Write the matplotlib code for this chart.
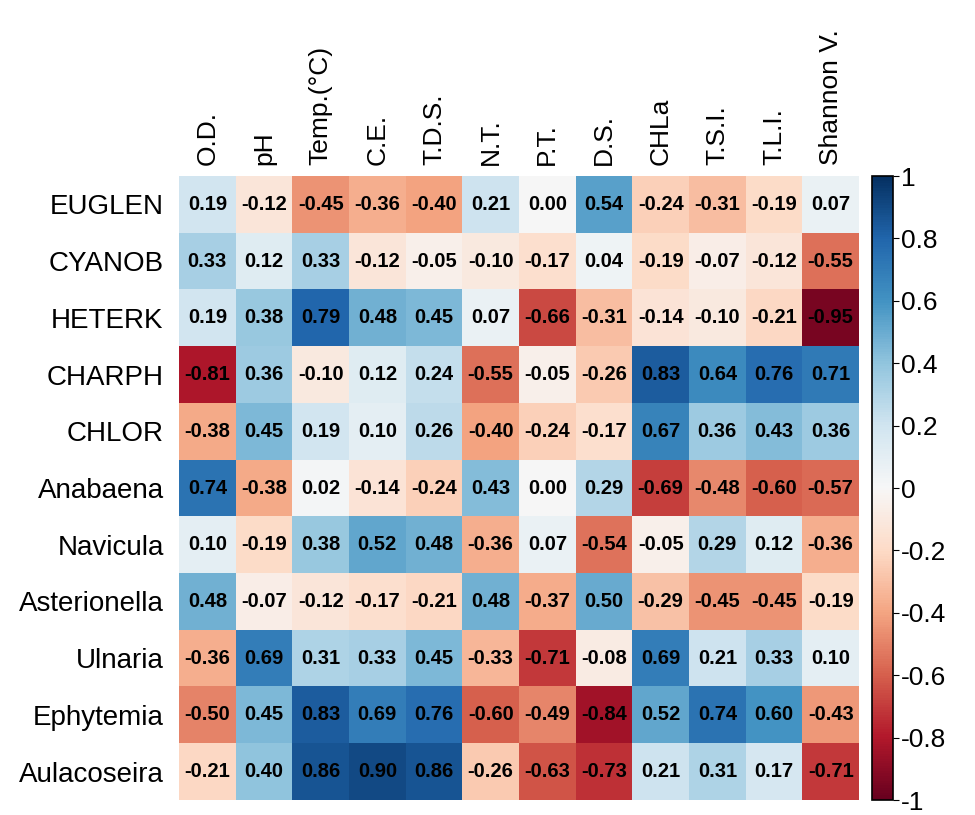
import numpy as np
import matplotlib
matplotlib.use("Agg")
import matplotlib.pyplot as plt

plt.rcParams['font.family'] = ['Liberation Sans', 'DejaVu Sans']

cols = ['O.D.', 'pH', 'Temp.(°C)', 'C.E.', 'T.D.S.', 'N.T.', 'P.T.', 'D.S.',
        'CHLa', 'T.S.I.', 'T.L.I.', 'Shannon V.']
rows = ['EUGLEN', 'CYANOB', 'HETERK', 'CHARPH', 'CHLOR', 'Anabaena', 'Navicula',
        'Asterionella', 'Ulnaria', 'Ephytemia', 'Aulacoseira']

euglen = [0.19, -0.12, -0.45, -0.36, -0.40, 0.21, 0.00, 0.54, -0.24, -0.31, -0.19, 0.07]
cyanob = [0.33, 0.12, 0.33, -0.12, -0.05, -0.10, -0.17, 0.04, -0.19, -0.07, -0.12, -0.55]
heterk = [0.19, 0.38, 0.79, 0.48, 0.45, 0.07, -0.66, -0.31, -0.14, -0.10, -0.21, -0.95]
charph = [-0.81, 0.36, -0.10, 0.12, 0.24, -0.55, -0.05, -0.26, 0.83, 0.64, 0.76, 0.71]
chlor = [-0.38, 0.45, 0.19, 0.10, 0.26, -0.40, -0.24, -0.17, 0.67, 0.36, 0.43, 0.36]
anabaena = [0.74, -0.38, 0.02, -0.14, -0.24, 0.43, 0.00, 0.29, -0.69, -0.48, -0.60, -0.57]
navicula = [0.10, -0.19, 0.38, 0.52, 0.48, -0.36, 0.07, -0.54, -0.05, 0.29, 0.12, -0.36]
asterionella = [0.48, -0.07, -0.12, -0.17, -0.21, 0.48, -0.37, 0.50, -0.29, -0.45, -0.45, -0.19]
ulnaria = [-0.36, 0.69, 0.31, 0.33, 0.45, -0.33, -0.71, -0.08, 0.69, 0.21, 0.33, 0.10]
ephytemia = [-0.50, 0.45, 0.83, 0.69, 0.76, -0.60, -0.49, -0.84, 0.52, 0.74, 0.60, -0.43]
aulacoseira = [-0.21, 0.40, 0.86, 0.90, 0.86, -0.26, -0.63, -0.73, 0.21, 0.31, 0.17, -0.71]

data = np.array([euglen, cyanob, heterk, charph, chlor, anabaena, navicula,
                 asterionella, ulnaria, ephytemia, aulacoseira])

fig = plt.figure(figsize=(9.75, 8.15), dpi=100)
ax = fig.add_axes([0.1836, 0.0184, 0.6974, 0.7656])
im = ax.imshow(data, cmap='RdBu', vmin=-1, vmax=1, aspect='auto')

# valeurs dans les cases
for i in range(data.shape[0]):
    for j in range(data.shape[1]):
        ax.text(j, i, f"{data[i, j]:.2f}", ha='center', va='center',
                fontsize=14.5, fontweight='bold', color='black')

ax.set_xticks(range(len(cols)))
ax.set_xticklabels(cols, rotation=90, fontsize=19)
ax.set_yticks(range(len(rows)))
ax.set_yticklabels(rows, fontsize=20)
ax.xaxis.tick_top()
ax.tick_params(axis='y', length=0, pad=11)
ax.tick_params(axis='x', length=0, pad=8)
for s in ax.spines.values():
    s.set_visible(False)

cax = fig.add_axes([0.894, 0.0184, 0.0215, 0.7656])
cb = fig.colorbar(im, cax=cax)
cb.set_ticks([-1, -0.8, -0.6, -0.4, -0.2, 0, 0.2, 0.4, 0.6, 0.8, 1])
cb.set_ticklabels(['-1', '-0.8', '-0.6', '-0.4', '-0.2', '0', '0.2', '0.4', '0.6', '0.8', '1'])
cb.ax.tick_params(labelsize=19, length=4, pad=2)
cb.outline.set_linewidth(1.2)

fig.savefig('out.png', dpi=100)
